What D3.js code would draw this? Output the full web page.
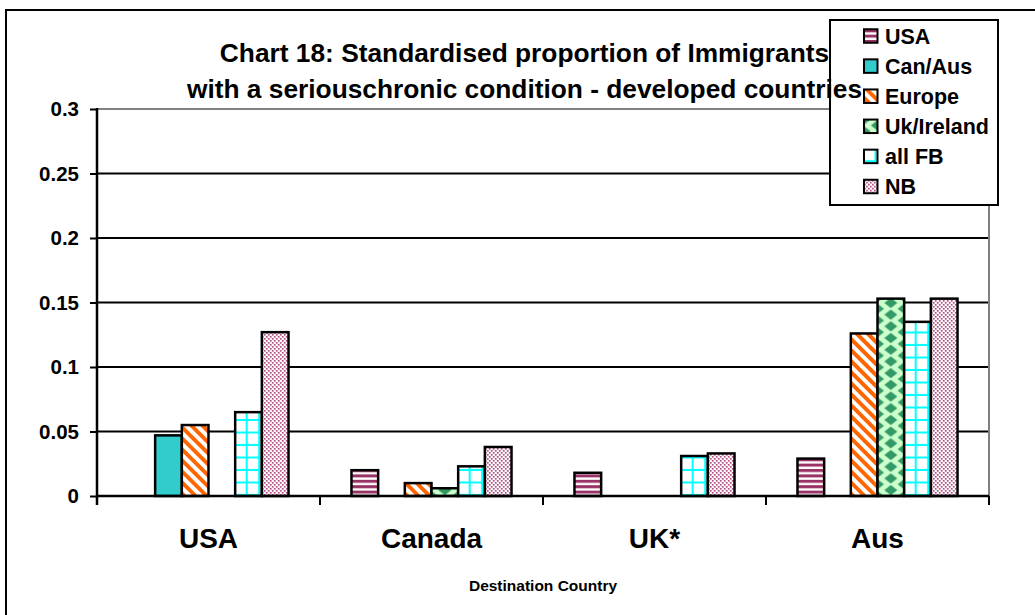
<!DOCTYPE html>
<html>
<head>
<meta charset="utf-8">
<script src="https://cdn.jsdelivr.net/npm/d3@7"></script>
<style>
  html, body { margin: 0; padding: 0; background: #ffffff; }
  svg { display: block; font-family: Arial, "Liberation Sans", Helvetica, sans-serif; font-weight: bold; }
</style>
</head>
<body>
<svg id="chart" width="1035" height="615"></svg>
<script>
// ---- data ----
const categories = ["USA", "Canada", "UK*", "Aus"];
const seriesNames = ["USA", "Can/Aus", "Europe", "Uk/Ireland", "all FB", "NB"];
const usaValues       = [null, 0.020, 0.018, 0.029];
const canAusValues    = [0.047, null, null, null];
const europeValues    = [0.055, 0.010, null, 0.126];
const ukIrelandValues = [null, 0.006, null, 0.153];
const allFBValues     = [0.065, 0.023, 0.031, 0.135];
const nbValues        = [0.127, 0.038, 0.033, 0.153];
const yTickValues = [0, 0.05, 0.1, 0.15, 0.2, 0.25, 0.3];
const titleLines = ["Chart 18: Standardised proportion of Immigrants",
                    "with a seriouschronic condition - developed countries"];
const xAxisTitle = "Destination Country";

const seriesValues = [usaValues, canAusValues, europeValues, ukIrelandValues, allFBValues, nbValues];

// ---- layout ----
const svg = d3.select("#chart");
const plot = { left: 97, right: 989, top: 109, bottom: 496 };

const x0 = d3.scaleBand().domain(categories).range([plot.left, plot.right]).padding(0);
const x1 = d3.scaleBand().domain(seriesNames).range([0, x0.bandwidth()])
  .paddingInner(0).paddingOuter(1.18);
const y = d3.scaleLinear().domain([0, 0.3]).range([plot.bottom, plot.top]);

// ---- fill patterns ----
const defs = svg.append("defs");
const bw = x1.bandwidth();

function pattern(id, w, h, bg) {
  const p = defs.append("pattern").attr("id", id)
    .attr("patternUnits", "userSpaceOnUse").attr("width", w).attr("height", h);
  p.append("rect").attr("width", w).attr("height", h).attr("fill", bg);
  return p;
}
// USA: horizontal maroon stripes
{
  const p = pattern("fill-usa", 8, 5.4, "#ffffff");
  p.append("rect").attr("y", 0).attr("width", 8).attr("height", 2.9).attr("fill", "#993366");
  p.append("rect").attr("y", 2.9).attr("width", 8).attr("height", 0.6).attr("fill", "#d9a6bf");
}
// Europe: orange diagonal stripes
{
  const p = pattern("fill-europe", 7.8, 7.8, "#ffffff").attr("patternTransform", "rotate(-45)");
  p.append("rect").attr("width", 3.9).attr("height", 7.8).attr("fill", "#FF6600");
}
// Uk/Ireland: green diamonds
{
  const W = bw, H = 11.7, a = 6.5, b = 5;
  const p = pattern("fill-ukire", W, H, "#CCFFCC");
  const centres = [[0, 0], [W, 0], [0, H], [W, H], [W / 2, H / 2]];
  p.selectAll("path").data(centres).join("path")
    .attr("d", ([cx, cy]) => `M${cx - a},${cy}L${cx},${cy - b}L${cx + a},${cy}L${cx},${cy + b}Z`)
    .attr("fill", "#339966");
}
// all FB: cyan grid
{
  const s = 12.5;
  const p = pattern("fill-allfb", s, s, "#ffffff");
  p.append("rect").attr("x", s - 2).attr("width", 2).attr("height", s).attr("fill", "#00FFFF");
  p.append("rect").attr("y", s - 2).attr("width", s).attr("height", 2).attr("fill", "#00FFFF");
}
// NB: fine maroon dots
{
  const p = pattern("fill-nb", 4, 4, "#ffffff");
  p.append("rect").attr("x", 0).attr("y", 0).attr("width", 1.7).attr("height", 1.7).attr("fill", "#B04A80");
  p.append("rect").attr("x", 2).attr("y", 2).attr("width", 1.7).attr("height", 1.7).attr("fill", "#B04A80");
}
const seriesFill = ["url(#fill-usa)", "#33CCCC", "url(#fill-europe)", "url(#fill-ukire)", "url(#fill-allfb)", "url(#fill-nb)"];

// ---- outer frame ----
svg.append("rect").attr("x", 6).attr("y", 10).attr("width", 1200).attr("height", 800)
  .attr("fill", "none").attr("stroke", "#000").attr("stroke-width", 2);

// ---- gridlines and plot border ----
svg.append("g").selectAll("line")
  .data(yTickValues.filter(v => v > 0 && v < 0.3))
  .join("line")
  .attr("x1", plot.left).attr("x2", plot.right)
  .attr("y1", d => y(d)).attr("y2", d => y(d))
  .attr("stroke", "#000").attr("stroke-width", 2);
svg.append("line").attr("x1", plot.left).attr("x2", plot.right)
  .attr("y1", y(0.3)).attr("y2", y(0.3)).attr("stroke", "#808080").attr("stroke-width", 2);
svg.append("line").attr("x1", plot.right).attr("x2", plot.right)
  .attr("y1", y(0.3)).attr("y2", y(0)).attr("stroke", "#808080").attr("stroke-width", 2);

// ---- bars ----
const groups = svg.append("g").selectAll("g")
  .data(categories)
  .join("g")
  .attr("transform", d => `translate(${x0(d)},0)`);

groups.each(function (cat, ci) {
  const g = d3.select(this);
  const bars = seriesNames.map((s, si) => ({ s, si, v: seriesValues[si][ci] }))
    .filter(d => d.v != null);
  g.selectAll("g").data(bars).join("g")
    .attr("transform", d => `translate(${x1(d.s)},${y(0)})`)
    .append("rect")
    .attr("x", 0)
    .attr("y", d => y(d.v) - y(0))
    .attr("width", bw)
    .attr("height", d => y(0) - y(d.v))
    .attr("fill", d => seriesFill[d.si])
    .attr("stroke", "#000").attr("stroke-width", 2.5);
});

// ---- y axis ----
const yAxis = svg.append("g").attr("transform", `translate(${plot.left},0)`)
  .call(d3.axisLeft(y).tickValues(yTickValues).tickSize(7).tickPadding(11)
    .tickFormat(d => String(d)));
yAxis.select(".domain").remove();
yAxis.selectAll(".tick line").attr("stroke", "#000").attr("stroke-width", 2);
yAxis.selectAll(".tick text").attr("fill", "#000")
  .style("font-size", "20.5px").style("font-weight", "bold")
  .style("font-family", "Arial, 'Liberation Sans', sans-serif");
svg.append("line").attr("x1", plot.left).attr("x2", plot.left)
  .attr("y1", y(0.3) - 1).attr("y2", y(0) + 9).attr("stroke", "#000").attr("stroke-width", 2.5);

// ---- x axis ----
const xAxis = svg.append("g").attr("transform", `translate(0,${plot.bottom})`)
  .call(d3.axisBottom(x0).tickSize(0).tickPadding(32.4));
xAxis.select(".domain").remove();
xAxis.selectAll(".tick text").attr("fill", "#000")
  .style("font-size", "28px").style("font-weight", "bold")
  .style("font-family", "Arial, 'Liberation Sans', sans-serif");
svg.append("line").attr("x1", plot.left).attr("x2", plot.right)
  .attr("y1", y(0)).attr("y2", y(0)).attr("stroke", "#000").attr("stroke-width", 2.5);
const boundaries = categories.map(c => x0(c)).concat([x0(categories[categories.length - 1]) + x0.bandwidth()]);
svg.append("g").selectAll("line").data(boundaries).join("line")
  .attr("x1", d => d).attr("x2", d => d)
  .attr("y1", y(0)).attr("y2", y(0) + 9)
  .attr("stroke", "#000").attr("stroke-width", 2);

svg.append("text").attr("x", (plot.left + plot.right) / 2).attr("y", 591)
  .attr("text-anchor", "middle").style("font-size", "15.5px").text(xAxisTitle);

// ---- legend ----
const legend = svg.append("g");
legend.append("rect").attr("x", 830).attr("y", 20).attr("width", 168).attr("height", 185)
  .attr("fill", "#fff").attr("stroke", "#000").attr("stroke-width", 2);
const items = legend.selectAll("g.item").data(seriesNames).join("g")
  .attr("class", "item")
  .attr("transform", (d, i) => `translate(864,${36 + i * 30.1})`);
items.append("g").attr("transform", "translate(0,-6.75)")
  .append("rect").attr("width", 13.5).attr("height", 13.5)
  .attr("fill", (d, i) => seriesFill[i]).attr("stroke", "#000").attr("stroke-width", 2);
items.append("text").attr("x", 21).attr("y", 7.6)
  .style("font-size", "21.5px").text(d => d);

// ---- title ----
svg.append("g").selectAll("text").data(titleLines).join("text")
  .attr("x", 524.5).attr("y", (d, i) => 62 + i * 35.5)
  .attr("text-anchor", "middle").style("font-size", "26.3px")
  .text(d => d);
</script>
</body>
</html>
